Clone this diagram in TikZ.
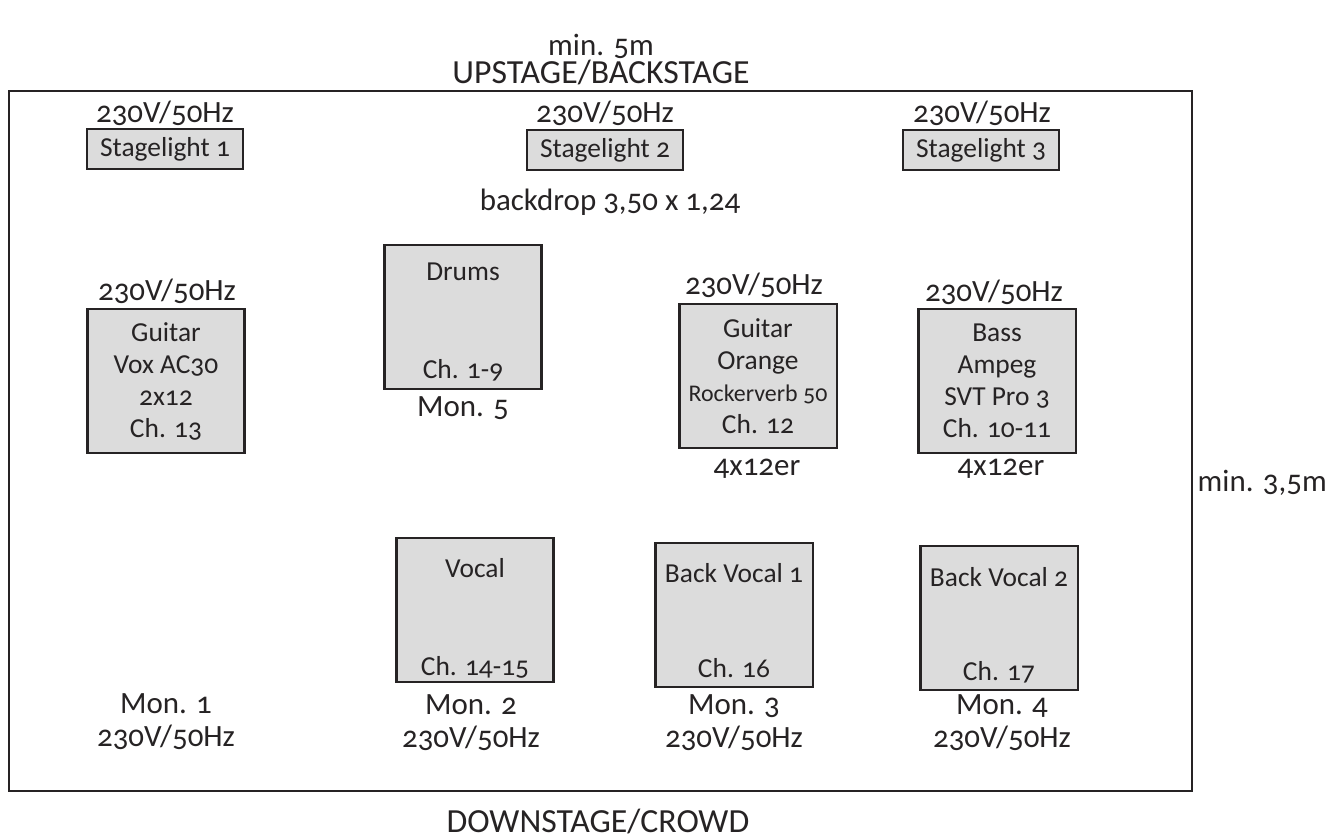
\documentclass[tikz,border=0pt]{standalone}
\usepackage{fontspec}
\setmainfont{Carlito}[Numbers=OldStyle]
\usepackage{tikz}
\definecolor{boxgray}{RGB}{220,220,220}
\definecolor{ink}{RGB}{38,35,36}

\begin{document}
\begin{tikzpicture}[x=0.01cm,y=-0.01cm,
  lbl/.style={inner sep=0pt, text=ink, align=center, font=\fontsize{8.8}{9.4}\selectfont},
  side/.style={inner sep=0pt, text=ink, font=\fontsize{9.6}{10}\selectfont},
  txt/.style={inner sep=0pt, text=ink, align=center, font=\fontsize{7.8}{9.1}\selectfont},
  lamp/.style={draw=ink, fill=boxgray, line width=0.6pt, rectangle, minimum width=1.56cm, minimum height=0.4cm, inner sep=0pt, text=ink, font=\fontsize{7.8}{9.1}\selectfont},
  amp/.style={draw=ink, fill=boxgray, line width=0.6pt, rectangle, minimum width=1.57cm, minimum height=1.44cm, inner sep=0pt, text=ink, align=center, font=\fontsize{7.8}{9.1}\selectfont}]
\useasboundingbox (0,0) rectangle (1330,837);

% stage outline and directions
\node[draw=ink, line width=0.6pt, rectangle, minimum width=11.83cm, minimum height=7cm, inner sep=0pt] (stage) at (600.5,441) {};
\node[lbl] (min5) at (601,46) {min. 5m};
\node[side] (up) at (601,73) {UPSTAGE/BACKSTAGE};
\node[side] (crowd) at (598,821) {DOWNSTAGE/CROWD};
\node[lbl, anchor=west] (depth) at (1197,483) {min. 3,5m};

% stagelights
\node[lamp] (sl1) at (165,149) {Stagelight 1};
\node[lamp] (sl2) at (605,150) {Stagelight 2};
\node[lamp] (sl3) at (981,150) {Stagelight 3};
\node[lbl] (p1) at (165,113) {230V/50Hz};
\node[lbl] (p2) at (605,113) {230V/50Hz};
\node[lbl] (p3) at (982,113) {230V/50Hz};
\node[lbl] (back) at (610,202) {backdrop 3,50 x 1,24};

% backline
\node[amp] (vox) at (166,381) {Guitar\\Vox AC30\\2x12\\Ch. 13};
\node[lbl] (p4) at (167,291) {230V/50Hz};
\node[amp] (drums) at (463,317) {};
\node[txt] (drA) at (463,272) {Drums};
\node[txt] (drB) at (463,370) {Ch. 1-9};
\node[lbl] (mon5) at (463,408) {Mon. 5};
\node[amp] (orange) at (758,376) {Guitar\\Orange\\{\fontsize{6.8}{9.1}\selectfont Rockerverb 50}\\Ch. 12};
\node[lbl] (p5) at (754,285) {230V/50Hz};
\node[lbl] (cab1) at (757,469) {4x12er};
\node[amp] (bass) at (997,381) {Bass\\Ampeg\\SVT Pro 3\\Ch. 10-11};
\node[lbl] (p6) at (994,292) {230V/50Hz};
\node[lbl] (cab2) at (1001,469) {4x12er};

% vocals
\node[amp] (voc) at (475,610) {};
\node[txt] (vocA) at (475,568) {Vocal};
\node[txt] (vocB) at (475,667) {Ch. 14-15};
\node[amp] (bv1) at (734,615) {};
\node[txt] (bv1A) at (734,573) {Back Vocal 1};
\node[txt] (bv1B) at (734,668) {Ch. 16};
\node[amp] (bv2) at (999,618) {};
\node[txt] (bv2A) at (999,577) {Back Vocal 2};
\node[txt] (bv2B) at (999,672) {Ch. 17};

% monitors
\node[lbl] (mon1) at (166,722) {Mon. 1\\230V/50Hz};
\node[lbl] (mon2) at (471,723) {Mon. 2\\230V/50Hz};
\node[lbl] (mon3) at (734,723) {Mon. 3\\230V/50Hz};
\node[lbl] (mon4) at (1002,723) {Mon. 4\\230V/50Hz};
\end{tikzpicture}
\end{document}
